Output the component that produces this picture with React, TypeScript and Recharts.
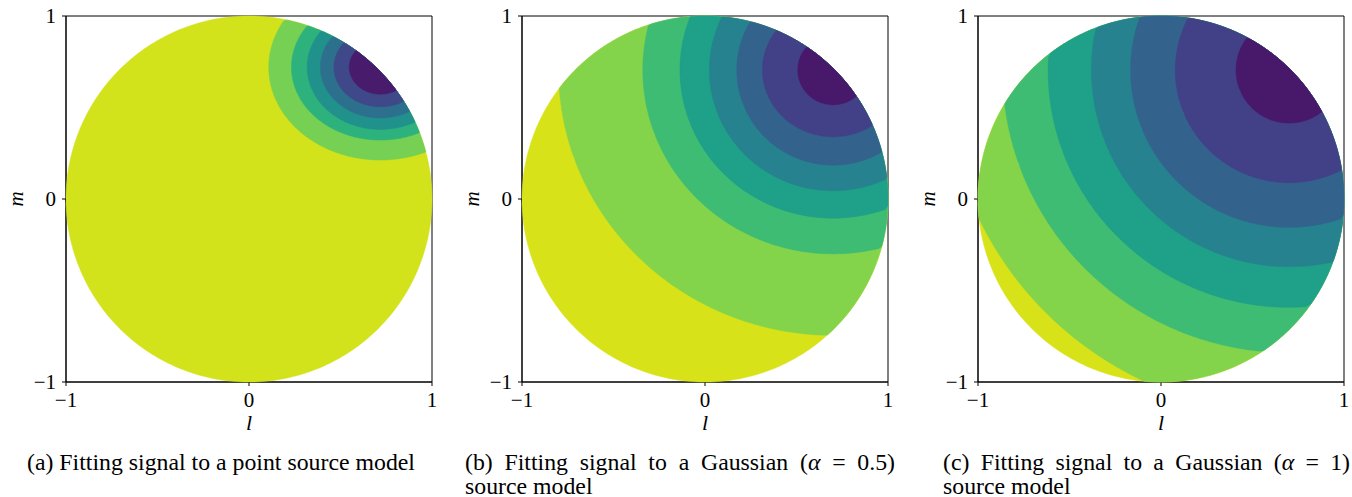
import React from 'react';
import { ScatterChart, Scatter, XAxis, YAxis, ReferenceArea } from 'recharts';

// axis ticks shared by all three panels
const L_TICKS = [-1, 0, 1];
const M_TICKS = [-1, 0, 1];

// (a) point source model: contour levels, outer -> inner
const centerA = { l: 0.718, m: 0.72 };
const rxA = [0.61, 0.486, 0.4, 0.328, 0.254, 0.17];
const ryA = [0.507, 0.398, 0.34, 0.277, 0.216, 0.147];
const colorsA = ['#d2e21b', '#75d054', '#2db27d', '#21918c', '#2d708e', '#3f4889', '#481b6d'];

// (b) Gaussian alpha = 0.5
const centerB = { l: 0.7, m: 0.705 };
const rxB = [1.5, 1.04, 0.837, 0.676, 0.526, 0.386, 0.193];
const ryB = [1.45, 1.005, 0.81, 0.66, 0.52, 0.365, 0.19];
const colorsB = ['#d8e219', '#84d44b', '#3fbc73', '#1fa088', '#26828e', '#33638d', '#424086', '#48186a'];

// (c) Gaussian alpha = 1
const centerC = { l: 0.7, m: 0.705 };
const rxC = [1.88, 1.566, 1.317, 1.08, 0.866, 0.622, 0.29];
const ryC = [1.875, 1.545, 1.297, 1.075, 0.86, 0.616, 0.29];
const colorsC = ['#d8e219', '#84d44b', '#3fbc73', '#1fa088', '#26828e', '#33638d', '#424086', '#48186a'];

const FONT = 'Liberation Serif, Times New Roman, serif';

type Pt = { l: number; m: number };

// outline of (unit disk) ∩ (contour ellipse), as a closed polygon in l/m units
const clipToDisk = (c: Pt, rx: number, ry: number, n = 360): Pt[] => {
  const pts: Pt[] = [];
  for (let i = 0; i < n; i++) {
    const t = (2 * Math.PI * i) / n;
    const e = { l: c.l + rx * Math.cos(t), m: c.m + ry * Math.sin(t) };
    if (e.l * e.l + e.m * e.m <= 1) pts.push(e);
    const u = { l: Math.cos(t), m: Math.sin(t) };
    if (((u.l - c.l) / rx) ** 2 + ((u.m - c.m) / ry) ** 2 <= 1) pts.push(u);
  }
  const cl = pts.reduce((s, p) => s + p.l, 0) / pts.length;
  const cm = pts.reduce((s, p) => s + p.m, 0) / pts.length;
  return pts.sort((a, b) => Math.atan2(a.m - cm, a.l - cl) - Math.atan2(b.m - cm, b.l - cl));
};

const disk = clipToDisk({ l: 0, m: 0 }, 5, 5);

const fmt = (v: number) => (v < 0 ? `\u2212${Math.abs(v)}` : String(v));
const noDot = () => <g />;

const XTick = (props: any) => (
  <text x={props.x} y={props.y} dy="0.7em" textAnchor="middle" fill="#000" fontSize={21} fontFamily={FONT}>
    {fmt(props.payload.value)}
  </text>
);

const YTick = (props: any) => (
  <text x={props.x} y={props.y} dy="0.34em" textAnchor="end" fill="#000" fontSize={21} fontFamily={FONT}>
    {fmt(props.payload.value)}
  </text>
);

interface PanelProps {
  left: number;
  center: Pt;
  rx: number[];
  ry: number[];
  colors: string[];
}

const ContourPanel: React.FC<PanelProps> = ({ left, center, rx, ry, colors }) => (
  <div style={{ position: 'absolute', left, top: 0 }}>
    <ScatterChart width={440} height={442} margin={{ top: 16, right: 8, bottom: 0, left: 0 }}>
      <XAxis
        type="number"
        dataKey="l"
        domain={[-1, 1]}
        ticks={L_TICKS}
        interval={0}
        tick={XTick}
        tickSize={4}
        tickMargin={6}
        stroke="#000"
        height={60}
        label={{ value: 'l', position: 'insideBottom', offset: 12, fill: '#000', fontSize: 22, fontStyle: 'italic', fontFamily: FONT }}
      />
      <YAxis
        type="number"
        dataKey="m"
        domain={[-1, 1]}
        ticks={M_TICKS}
        interval={0}
        tick={YTick}
        tickSize={4}
        tickMargin={6}
        stroke="#000"
        width={66}
        label={{ value: 'm', angle: -90, position: 'insideLeft', offset: 16, fill: '#000', fontSize: 21, fontStyle: 'italic', fontFamily: FONT, style: { textAnchor: 'middle' } }}
      />
      <Scatter data={disk} shape={noDot} line={{ fill: colors[0], stroke: colors[0], strokeWidth: 0.5 }} lineType="joint" isAnimationActive={false} />
      {rx.map((r, i) => (
        <Scatter
          key={i}
          data={clipToDisk(center, r, ry[i])}
          shape={noDot}
          line={{ fill: colors[i + 1], stroke: colors[i + 1], strokeWidth: 0.5 }}
          lineType="joint"
          isAnimationActive={false}
        />
      ))}
      <ReferenceArea x1={-1} x2={1} y1={-1} y2={1} fill="none" stroke="#000" strokeWidth={1} ifOverflow="visible" />
    </ScatterChart>
  </div>
);

const captionStyle: React.CSSProperties = {
  position: 'absolute',
  fontFamily: FONT,
  fontSize: 23.8,
  lineHeight: '24px',
  color: '#000',
  whiteSpace: 'nowrap',
};

export default function App() {
  return (
    <div style={{ position: 'absolute', left: 0, top: 0, width: 1352, height: 497, overflow: 'hidden', background: '#fff' }}>
      <ContourPanel left={0} center={centerA} rx={rxA} ry={ryA} colors={colorsA} />
      <ContourPanel left={456} center={centerB} rx={rxB} ry={ryB} colors={colorsB} />
      <ContourPanel left={912} center={centerC} rx={rxC} ry={ryC} colors={colorsC} />

      <div style={{ ...captionStyle, left: 27, top: 450 }}>(a) Fitting signal to a point source model</div>

      <div style={{ ...captionStyle, left: 465, top: 450, width: 430 }}>
        <div style={{ textAlign: 'justify', textAlignLast: 'justify', whiteSpace: 'normal' }}>
          (b) Fitting signal to a Gaussian (<i>α</i> = 0.5)
        </div>
        <div>source model</div>
      </div>

      <div style={{ ...captionStyle, left: 943, top: 450, width: 407 }}>
        <div style={{ textAlign: 'justify', textAlignLast: 'justify', whiteSpace: 'normal' }}>
          (c) Fitting signal to a Gaussian (<i>α</i> = 1)
        </div>
        <div>source model</div>
      </div>
    </div>
  );
}
